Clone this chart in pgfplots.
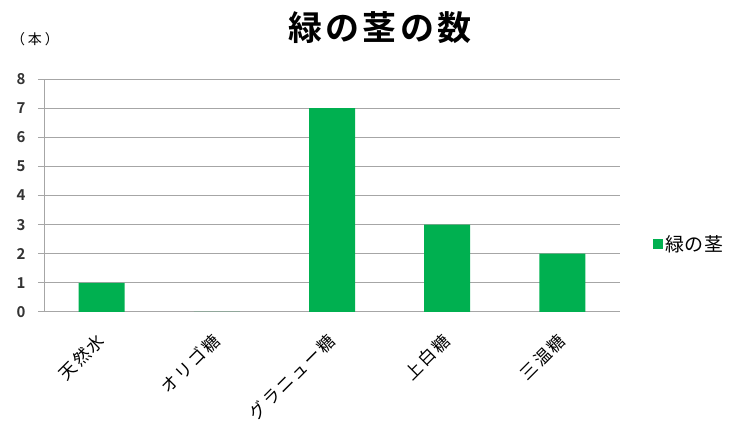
\documentclass[border=0pt]{standalone}
\usepackage{fontspec}
\setmainfont{Noto Sans CJK JP}[BoldFont={Noto Sans CJK JP Bold}]
\usepackage{pgfplots}
\pgfplotsset{compat=1.18}
\definecolor{barg}{HTML}{00B050}
\definecolor{gridg}{HTML}{A6A6A6}
\begin{document}
\begin{tikzpicture}[x=1pt,y=1pt]
\path (0,0) rectangle (748,431);
\node[font=\bfseries\fontsize{34}{36}\selectfont\addfontfeature{LetterSpace=10}] at (380,403) {緑の茎の数};
\node[font=\fontsize{14}{16}\selectfont\addfontfeature{LetterSpace=20}] at (35,392) {（本）};
\begin{axis}[
    at={(44pt,119pt)}, anchor=south west,
    scale only axis, width=576pt, height=233pt,
    ymin=0, ymax=8, ytick={0,1,...,8},
    xmin=-0.5, xmax=4.5,
    xtick={0,1,2,3,4},
    xticklabels={天然水, オリゴ糖, グラニュー糖, 上白糖, 三温糖},
    minor xtick={-0.5,0.5,...,4.5},
    axis lines*=left,
    axis line style={gridg, line width=1pt, -},
    ymajorgrids, grid style={gridg, line width=1pt},
    tick align=outside,
    major tick length=6pt, minor tick length=6pt,
    xtick style={draw=none},
    minor tick style={gridg, line width=1pt},
    ytick style={gridg, line width=1pt},
    /pgf/number format/assume math mode=true,
    yticklabel style={font=\bfseries\fontsize{15}{17}\selectfont, text=black!80, xshift=-9pt},
    xticklabel style={font=\fontsize{17}{19}\selectfont\addfontfeature{LetterSpace=12}, xshift=-6pt, yshift=-9pt, rotate=45, anchor=north east},
    ybar, bar width=46pt,
    legend style={at={(1.052,0.292)}, anchor=west, draw=none, font=\fontsize{19}{21}\selectfont\addfontfeature{LetterSpace=4}},
    legend image code/.code={\fill[barg] (0pt,-5pt) rectangle (10pt,5pt);},
]
\addplot[fill=barg, draw=none] coordinates {(0,1) (1,0) (2,7) (3,3) (4,2)};
\legend{緑の茎}
\end{axis}
\end{tikzpicture}
\end{document}
